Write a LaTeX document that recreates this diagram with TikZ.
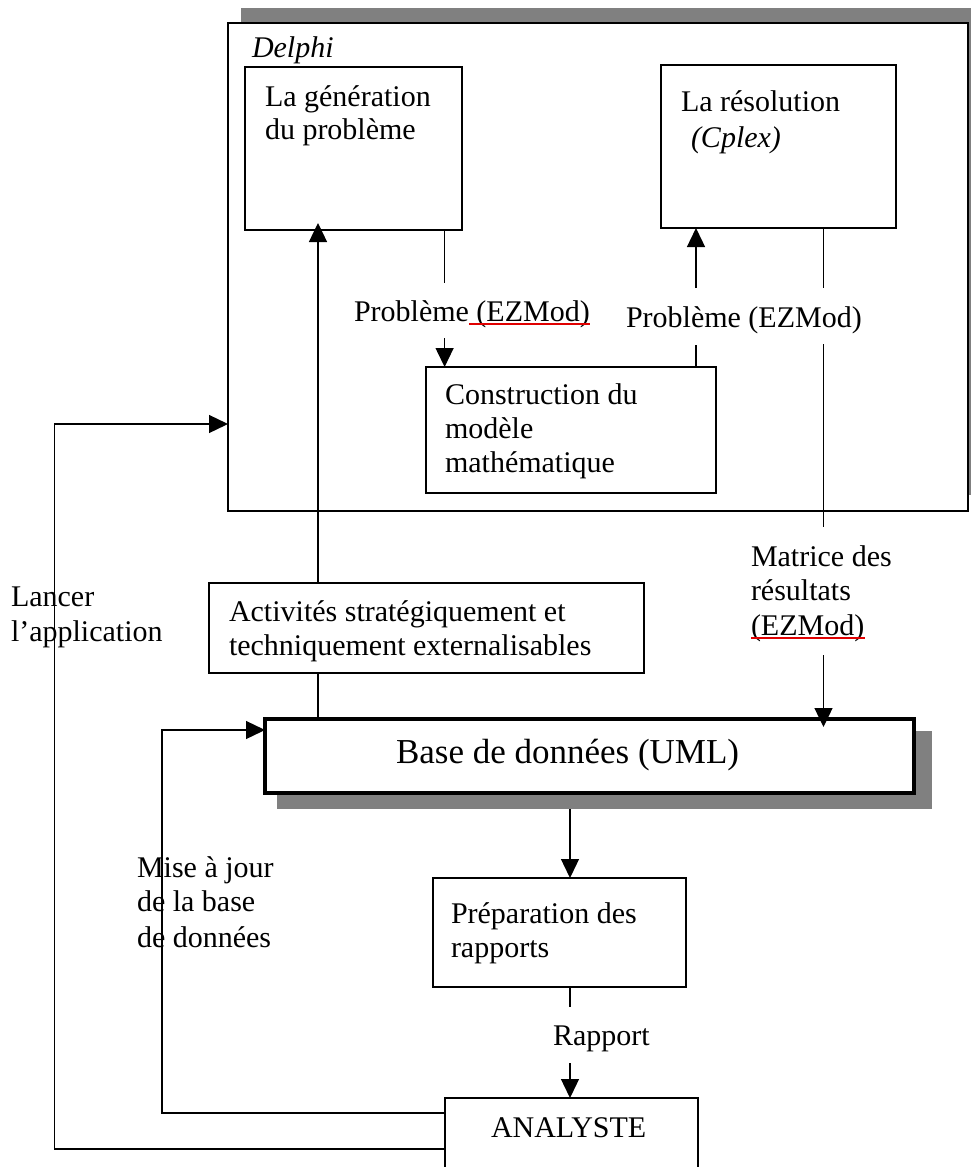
\documentclass[tikz,border=0pt]{standalone}
\usepackage{fontspec}
\setmainfont{Liberation Serif}
\usetikzlibrary{arrows.meta}
\definecolor{shadowgray}{HTML}{808080}
\definecolor{spellred}{HTML}{E00000}
\tikzset{
 box/.style={draw, line width=1.6pt, inner sep=0pt, outer sep=0pt, fill=white, anchor=north west},
 txt/.style={anchor=base west, inner sep=0pt, outer sep=0pt, font=\fontsize{30}{35}\selectfont},
 conn/.style={line width=1.3pt},
 arr/.style={line width=1.3pt, -{Triangle[length=19pt,width=18pt]}},
 underl/.style={spellred, line width=1.5pt},
}
\begin{document}
\begin{tikzpicture}[x=1pt,y=-1pt]
\useasboundingbox (0,0) rectangle (971,1167);
\clip (0,0) rectangle (971,1167);
% Delphi frame
\fill[shadowgray] (241,8) rectangle (990,495);
\node[box, minimum width=740pt, minimum height=488pt] (delphi) at (228,23) {};
\node[txt] (tdelphi) at (252,57) {\itshape Delphi};
\node[box, minimum width=217pt, minimum height=163pt] (gen) at (245,67) {};
\node[txt] (tgen1) at (265,106) {La génération};
\node[txt] (tgen2) at (265,139) {du problème};
\node[box, minimum width=235pt, minimum height=163pt] (res) at (661,65) {};
\node[txt] (tres1) at (681,111) {La résolution};
\node[txt] (tres2) at (691,147) {\itshape (Cplex)};
\node[box, minimum width=290pt, minimum height=126pt] (cons) at (426,367) {};
\node[txt] (tcons1) at (445,404) {Construction du};
\node[txt] (tcons2) at (445,438) {modèle};
\node[txt] (tcons3) at (445,472) {mathématique};
% coordinates
\coordinate (ax) at (318,0);
\coordinate (px) at (570,0);
\coordinate (g1) at (444.6,283);
\coordinate (g2) at (444.6,338);
\coordinate (r1) at (696,345);
\coordinate (r2) at (696,288);
\coordinate (m1) at (823.5,288);
\coordinate (m2) at (823.5,344);
\coordinate (m3) at (823.5,527);
\coordinate (m4) at (823.5,655);
\coordinate (q1) at (570,1007);
\coordinate (q2) at (570,1063);
\coordinate (u1) at (162,1113);
\coordinate (u2) at (162,730);
\coordinate (l1) at (54.5,1149);
\coordinate (l2) at (54.5,424);
% other boxes
\node[box, minimum width=435pt, minimum height=90pt] (act) at (209,583) {};
\node[txt] (tact1) at (229,621) {Activités stratégiquement et};
\node[txt] (tact2) at (229,655) {techniquement externalisables};
\node[box, minimum width=253pt, minimum height=109pt] (prep) at (433,878) {};
\node[txt] (tprep1) at (451,923) {Préparation des};
\node[txt] (tprep2) at (451,957) {rapports};
\node[box, minimum width=253pt, minimum height=120pt] (ana) at (445,1098) {};
\node[txt] (tana) at (491,1137) {ANALYSTE};
% DB -> preparation (under the shadow)
\draw[arr] (px |- 0,793) -- (prep.north -| px);
% Database
\fill[shadowgray] (277,731) rectangle (932,809);
\node[box, line width=4pt, minimum width=649pt, minimum height=74pt] (db) at (265,719) {};
\node[txt, font=\fontsize{35}{40}\selectfont] (tdb) at (396,763) {Base de données (UML)};
% connectors
\draw[conn] (gen.south -| g1) -- (g1);
\draw[arr] (g2) -- (cons.north -| g2);
\draw[conn] (cons.north -| r1) -- (r1);
\draw[arr] (r2) -- (res.south -| r2);
\draw[conn] (res.south -| m1) -- (m1);
\draw[conn] (m2) -- (m3);
\draw[arr] (m4) -- ([yshift=-8pt]db.north -| m4);
\draw[arr] (act.north -| ax) -- ([yshift=7pt]gen.south -| ax);
\draw[conn] (act.south -| ax) -- (db.north -| ax);
\draw[conn] (prep.south -| px) -- (q1);
\draw[arr] (q2) -- (ana.north -| px);
\draw[arr] (ana.west |- u1) -- (u1) -- (u2) -- (db.west |- u2);
\draw[arr] (ana.west |- l1) -- (l1) -- (l2) -- (delphi.west |- l2);
% labels
\node[txt] (lp1) at (354,321) {Problème (EZMod)};
\draw[underl] (469,324) -- (590,324);
\node[txt] (lp2) at (626,327) {Problème (EZMod)};
\node[txt] (lm1) at (751,566) {Matrice des};
\node[txt] (lm2) at (751,600) {résultats};
\node[txt] (lm3) at (751,635) {(EZMod)};
\draw[underl] (751,638) -- (865,638);
\node[txt] (ll1) at (11,606) {Lancer};
\node[txt] (ll2) at (11,641) {l’application};
\node[txt] (lu1) at (137,877) {Mise à jour};
\node[txt] (lu2) at (137,911) {de la base};
\node[txt] (lu3) at (137,947) {de données};
\node[txt] (lr) at (553,1045) {Rapport};
\end{tikzpicture}
\end{document}
